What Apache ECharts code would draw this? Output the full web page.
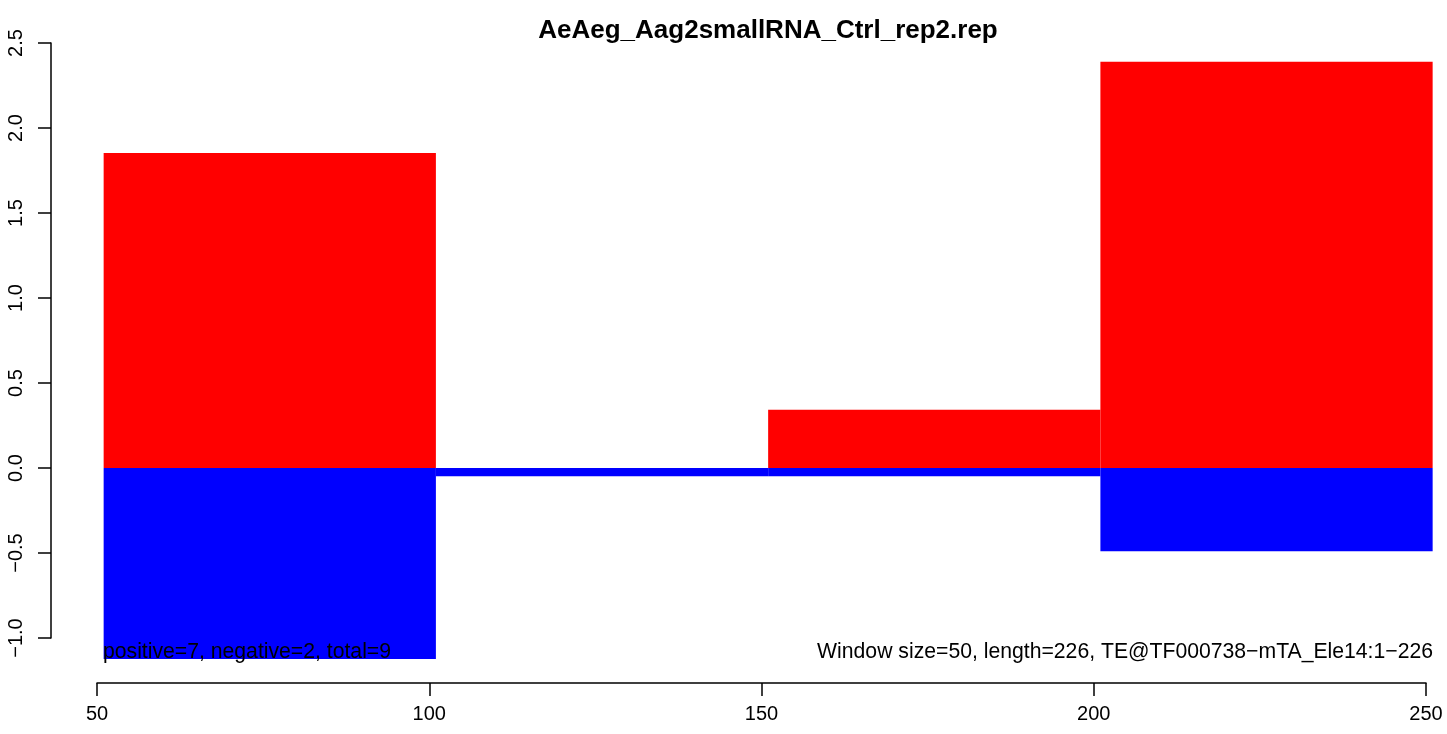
<!DOCTYPE html>
<html>
<head>
<meta charset="utf-8">
<script src="https://cdn.jsdelivr.net/npm/echarts@6/dist/echarts.min.js"></script>
<style>
html, body { margin: 0; padding: 0; background: #fff; }
#chart { width: 1447px; height: 734px; }
</style>
</head>
<body>
<div id="chart"></div>
<script>
// ---- data ----
const chartTitle = 'AeAeg_Aag2smallRNA_Ctrl_rep2.rep';
const windowStart = [51, 101, 151, 201];
const windowEnd = [101, 151, 201, 251];
const positiveValues = [1.853, 0, 0.343, 2.39];
const negativeValues = [-1.124, -0.049, -0.049, -0.49];
const xTicks = [50, 100, 150, 200, 250];
const yTicks = [-1.0, -0.5, 0.0, 0.5, 1.0, 1.5, 2.0, 2.5];
const leftNote = 'positive=7, negative=2, total=9';
const rightNote = 'Window size=50, length=226, TE@TF000738\u2212mTA_Ele14:1\u2212226';

const FONT = '"Liberation Sans", Arial, Helvetica, sans-serif';

function rectData(vals) {
  return vals.map((v, i) => [windowStart[i], windowEnd[i], v]);
}

function renderRect(color) {
  return function (params, api) {
    const x0 = api.value(0), x1 = api.value(1), v = api.value(2);
    if (v === 0) return null;
    const p0 = api.coord([x0, 0]);
    const p1 = api.coord([x1, v]);
    return {
      type: 'rect',
      shape: {
        x: Math.min(p0[0], p1[0]),
        y: Math.min(p0[1], p1[1]),
        width: Math.abs(p1[0] - p0[0]),
        height: Math.abs(p1[1] - p0[1])
      },
      style: { fill: color, stroke: null }
    };
  };
}

const chart = echarts.init(document.getElementById('chart'), null, { renderer: 'canvas' });

const plotLeft = 97, plotRight = 1426;

chart.setOption({
  animation: false,
  backgroundColor: '#ffffff',
  grid: { left: plotLeft, right: 1447 - plotRight, top: 43, bottom: 96, containLabel: false },
  xAxis: {
    type: 'value',
    min: xTicks[0],
    max: xTicks[xTicks.length - 1],
    interval: 50,
    offset: 45,
    splitLine: { show: false },
    axisLine: { show: true, onZero: false, lineStyle: { color: '#000', width: 1.5 } },
    axisTick: { show: true, length: 13, lineStyle: { color: '#000', width: 1.5 } },
    axisLabel: { color: '#000', fontSize: 20, fontFamily: FONT, margin: 21,
      formatter: v => String(v) }
  },
  yAxis: {
    type: 'value',
    min: yTicks[0],
    max: yTicks[yTicks.length - 1],
    interval: 0.5,
    offset: 46,
    splitLine: { show: false },
    axisLine: { show: true, onZero: false, lineStyle: { color: '#000', width: 1.5 } },
    axisTick: { show: true, length: 13, lineStyle: { color: '#000', width: 1.5 } },
    axisLabel: { color: '#000', fontSize: 20, fontFamily: FONT, margin: 25, rotate: 90,
      formatter: v => (v < 0 ? '\u2212' : '') + Math.abs(v).toFixed(1) }
  },
  series: [
    { type: 'custom', name: 'positive', data: rectData(positiveValues), renderItem: renderRect('#ff0000'), clip: false, encode: { x: [0, 1], y: 2 } },
    { type: 'custom', name: 'negative', data: rectData(negativeValues), renderItem: renderRect('#0000ff'), clip: false, encode: { x: [0, 1], y: 2 } }
  ],
  graphic: [
    { type: 'text', x: 768, y: 31, z: 100,
      style: { text: chartTitle, fill: '#000', font: 'bold 26px ' + FONT, textAlign: 'center', textVerticalAlign: 'middle' } },
    { type: 'text', x: 103, y: 652, z: 100,
      style: { text: leftNote, fill: '#000', font: '21.2px ' + FONT, textAlign: 'left', textVerticalAlign: 'middle' } },
    { type: 'text', x: 1433, y: 652, z: 100,
      style: { text: rightNote, fill: '#000', font: '21.2px ' + FONT, textAlign: 'right', textVerticalAlign: 'middle' } }
  ]
});
</script>
</body>
</html>
